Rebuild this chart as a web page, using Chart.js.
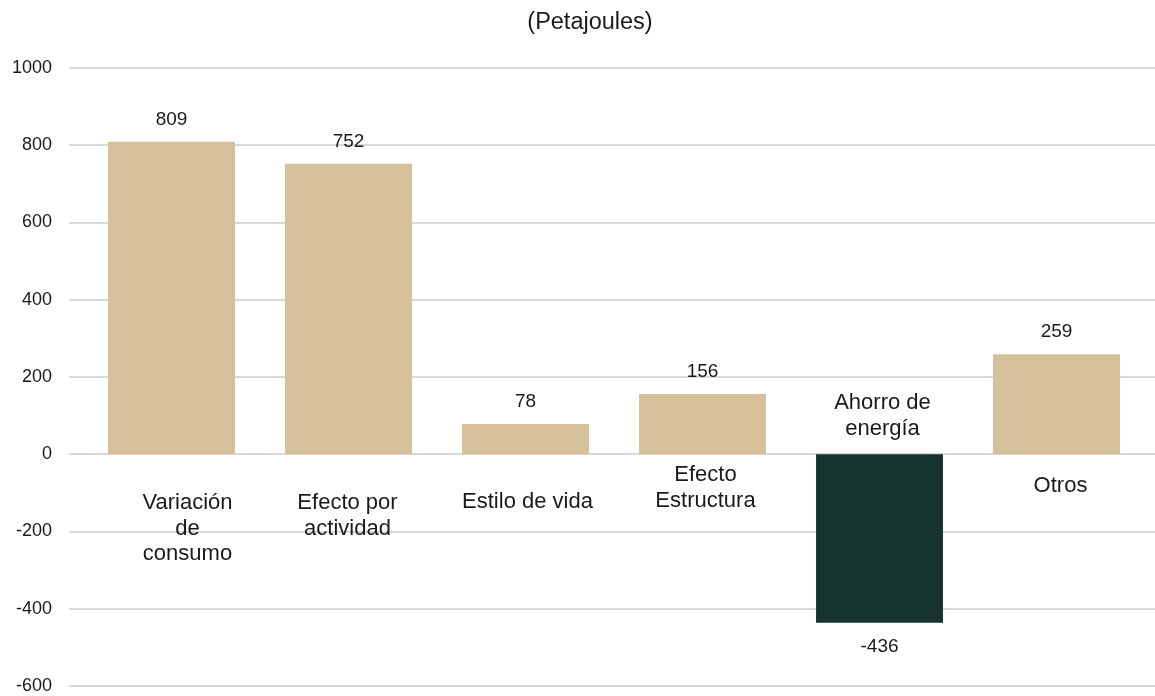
<!DOCTYPE html>
<html>
<head>
<meta charset="utf-8">
<script src="https://cdn.jsdelivr.net/npm/chart.js@4.4.0/dist/chart.umd.min.js"></script>
<style>
  html, body { margin: 0; padding: 0; background: #ffffff; overflow: hidden; }
  canvas { display: block; }
</style>
</head>
<body>
<canvas id="mainChart" width="1155" height="696"></canvas>
<script>
// --- DATA ---
const categories = [
    ['Variación', 'de', 'consumo'],
    ['Efecto por', 'actividad'],
    ['Estilo de vida'],
    ['Efecto', 'Estructura'],
    ['Ahorro de', 'energía'],
    ['Otros']
];
const values = [809, 752, 78, 156, -436, 259];
const yTickValues = [-600, -400, -200, 0, 200, 400, 600, 800, 1000];
const titleText = '(Petajoules)';

// --- STYLE ---
const TAN = '#D5C09A';
const DARK = '#16332D';
const TEXT = '#1a1a1a';
const GRID = '#d9d9d9';
const FONT = '"Liberation Sans", Arial, sans-serif';
// category label placement relative to bar centre / zero line (px)
const labelOffsets = [49, 49, 48, 21, -51, 32];
const labelShiftX = [16, -1, 2, 3, 3, 4];

const labelPlugin = {
    id: 'labelPlugin',
    beforeDatasetsDraw(chart) {
        const ctx = chart.ctx;
        const y = chart.scales.y;
        ctx.save();
        ctx.strokeStyle = GRID;
        ctx.lineWidth = 2;
        yTickValues.forEach(v => {
            const py = Math.round(y.getPixelForValue(v));
            ctx.beginPath();
            ctx.moveTo(69, py);
            ctx.lineTo(chart.width, py);
            ctx.stroke();
        });
        ctx.restore();
    },
    afterDatasetsDraw(chart) {
        const ctx = chart.ctx;
        const y = chart.scales.y;
        const zero = y.getPixelForValue(0);
        const meta = chart.getDatasetMeta(0);
        ctx.save();
        ctx.fillStyle = TEXT;
        ctx.textAlign = 'center';
        ctx.textBaseline = 'middle';

        // value labels
        ctx.font = '19px ' + FONT;
        meta.data.forEach((bar, i) => {
            const v = values[i];
            const py = v >= 0 ? bar.y - 22 : bar.y + 24;
            ctx.fillText(String(v), bar.x, py);
        });

        // category labels
        ctx.font = '22px ' + FONT;
        meta.data.forEach((bar, i) => {
            categories[i].forEach((line, j) => {
                ctx.fillText(line, bar.x + labelShiftX[i], zero + labelOffsets[i] + j * 25.5);
            });
        });

        // title
        ctx.font = '23.5px ' + FONT;
        ctx.fillText(titleText, 590, 23);
        ctx.restore();
    }
};

new Chart(document.getElementById('mainChart'), {
    type: 'bar',
    data: {
        labels: categories,
        datasets: [{
            data: values,
            backgroundColor: values.map(v => v < 0 ? DARK : TAN),
            borderWidth: 0,
            barPercentage: 0.717,
            categoryPercentage: 1.0
        }]
    },
    options: {
        responsive: false,
        devicePixelRatio: 1,
        animation: false,
        layout: { padding: { top: 68, bottom: 10, left: 0, right: 10 } },
        plugins: {
            legend: { display: false },
            tooltip: { enabled: false },
            title: { display: false }
        },
        scales: {
            x: {
                display: false,
                grid: { display: false }
            },
            y: {
                min: -600,
                max: 1000,
                afterBuildTicks: (scale) => {
                    scale.ticks = yTickValues.map(v => ({ value: v }));
                },
                afterFit: (scale) => {
                    scale.width = 83;
                    scale.paddingTop = 0;
                    scale.paddingBottom = 0;
                },
                grid: { display: false, drawTicks: false },
                border: { display: false },
                ticks: {
                    padding: 31,
                    color: TEXT,
                    font: { family: FONT, size: 18 },
                    callback: (v) => String(v)
                }
            }
        }
    },
    plugins: [labelPlugin]
});
</script>
</body>
</html>
